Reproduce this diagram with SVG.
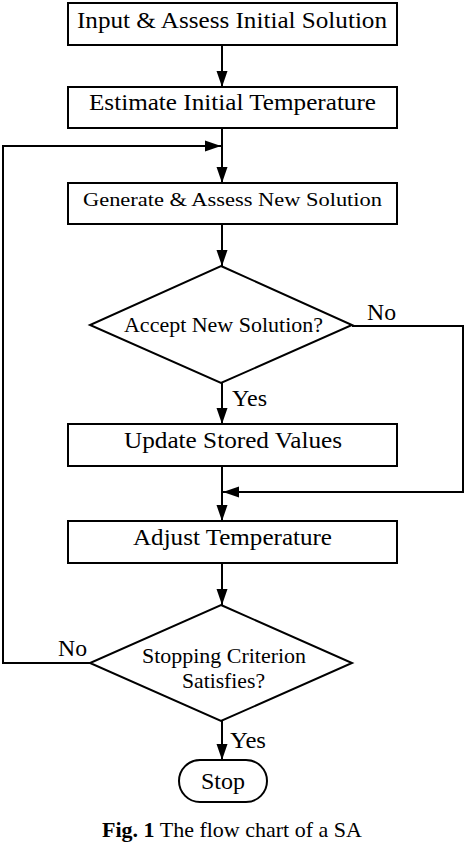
<svg xmlns="http://www.w3.org/2000/svg" width="466" height="844" viewBox="0 0 466 844">
<defs>
<marker id="ah" markerWidth="16" markerHeight="12" refX="16" refY="6" orient="auto" markerUnits="userSpaceOnUse">
<path d="M0,0.5 L16,6 L0,11.5 Z" fill="#000"/>
</marker>
<style>
.box{fill:#fff;stroke:#000;stroke-width:2}
.ln{fill:none;stroke:#000;stroke-width:2}
text{font-family:'Liberation Serif','Times New Roman',serif;fill:#000;text-anchor:middle}
.l{font-size:24px}
.m{font-size:22px}
.s{font-size:19px}
</style>
</defs>
<rect width="466" height="844" fill="#fff"/>
<g id="connectors">
<line class="ln" x1="222" y1="45" x2="222" y2="87" marker-end="url(#ah)"/>
<line class="ln" x1="222" y1="128" x2="222" y2="183" marker-end="url(#ah)"/>
<polyline class="ln" points="90,663 3,663 3,146 221,146" marker-end="url(#ah)"/>
<line class="ln" x1="222" y1="224" x2="222" y2="266" marker-end="url(#ah)"/>
<line class="ln" x1="222" y1="383" x2="222" y2="424" marker-end="url(#ah)"/>
<polyline class="ln" points="352,326 463,326 463,492 223,492" marker-end="url(#ah)"/>
<line class="ln" x1="222" y1="466" x2="222" y2="521" marker-end="url(#ah)"/>
<line class="ln" x1="222" y1="563" x2="222" y2="605" marker-end="url(#ah)"/>
<line class="ln" x1="222" y1="721" x2="222" y2="760" marker-end="url(#ah)"/>
<text class="l" x="381.5" y="320" textLength="29" lengthAdjust="spacingAndGlyphs">No</text>
<text class="l" x="249.5" y="406" textLength="35" lengthAdjust="spacingAndGlyphs">Yes</text>
<text class="l" x="72.5" y="656" textLength="29" lengthAdjust="spacingAndGlyphs">No</text>
<text class="l" x="248" y="748" textLength="36" lengthAdjust="spacingAndGlyphs">Yes</text>
</g>
<g id="n1"><rect class="box" x="68" y="3" width="329" height="42"/><text class="l" x="232" y="28" textLength="310" lengthAdjust="spacingAndGlyphs">Input &amp; Assess Initial Solution</text></g>
<g id="n2"><rect class="box" x="68" y="87" width="329" height="41"/><text class="l" x="232.5" y="110" textLength="287" lengthAdjust="spacingAndGlyphs">Estimate Initial Temperature</text></g>
<g id="n3"><rect class="box" x="68" y="183" width="329" height="41"/><text class="s" x="232.5" y="206" textLength="299" lengthAdjust="spacingAndGlyphs">Generate &amp; Assess New Solution</text></g>
<g id="n4"><polygon class="box" points="221,266 352,325 221,383 90,325"/><text class="m" x="223.5" y="332" textLength="199" lengthAdjust="spacingAndGlyphs">Accept New Solution?</text></g>
<g id="n5"><rect class="box" x="68" y="424" width="329" height="42"/><text class="l" x="233" y="448" textLength="218" lengthAdjust="spacingAndGlyphs">Update Stored Values</text></g>
<g id="n6"><rect class="box" x="68" y="521" width="329" height="42"/><text class="l" x="232.5" y="545" textLength="199" lengthAdjust="spacingAndGlyphs">Adjust Temperature</text></g>
<g id="n7"><polygon class="box" points="221,605 352,663 221,721 90,663"/><text class="m" x="224" y="663" textLength="164" lengthAdjust="spacingAndGlyphs">Stopping Criterion</text><text class="m" x="223.5" y="688" textLength="83" lengthAdjust="spacingAndGlyphs">Satisfies?</text></g>
<g id="n8"><rect class="box" x="179" y="760" width="88" height="42" rx="21" ry="21"/><text class="l" x="223" y="789" textLength="44" lengthAdjust="spacingAndGlyphs">Stop</text></g>
<text class="m" x="232" y="837" textLength="260" lengthAdjust="spacingAndGlyphs"><tspan font-weight="bold">Fig. 1</tspan> The flow chart of a SA</text>
</svg>
